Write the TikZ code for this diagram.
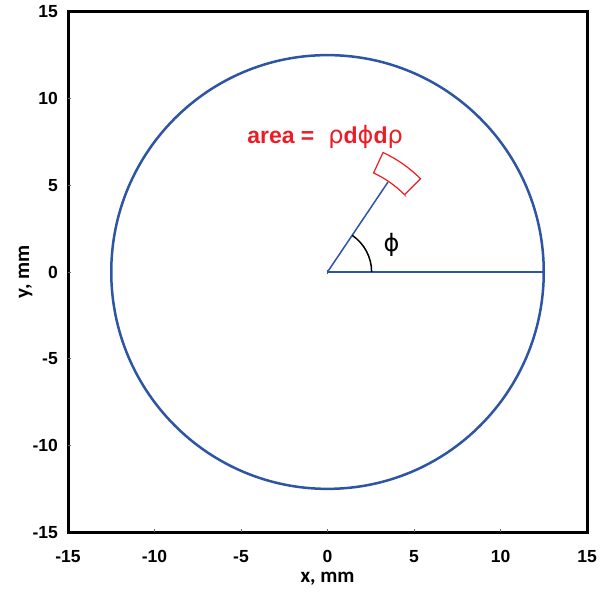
\documentclass[tikz,border=0pt]{standalone}
\usepackage{fontspec}
\setmainfont{Liberation Sans}
\newfontfamily\titlefont{Carlito}
\newfontfamily\greekfont{DejaVu Sans}
\usetikzlibrary{positioning}
\definecolor{plotblue}{RGB}{46,84,164}
\definecolor{plotred}{RGB}{237,28,36}
\newcommand{\gk}[1]{{\greekfont\mdseries\fontsize{24}{28}\selectfont #1}}

\begin{document}
\begin{tikzpicture}
\tikzset{
    myaxis/.style={black, line width=3pt, line cap=rect},
    mytick/.style={black!60, line width=0.8pt},
    myticklabel/.style={font=\fontsize{17.5}{20}\selectfont\bfseries, inner sep=0pt},
    mytitle/.style={font=\titlefont\bfseries\fontsize{21}{24}\selectfont, inner sep=0pt},
    mycircle/.style={plotblue, line width=2.5pt},
    myradius/.style={plotblue, line width=1.5pt},
    myelement/.style={plotred, line width=1.2pt},
    mylabel/.style={plotred, font=\fontsize{23}{26}\selectfont\bfseries, inner sep=0pt}
}
\useasboundingbox (0,0) rectangle (602pt,593pt);
\begin{scope}[shift={(327.5pt,321pt)}, x=17.3pt, y=17.35pt]
% frame and ticks
\draw[myaxis] (-15,-15) rectangle (15,15);
\foreach \v in {-10,-5,0,5,10} {
    \draw[mytick] (\v,-15) -- ++(0,0.2);
    \draw[mytick] (-15,\v) -- ++(0.2,0);
}
\foreach \v in {-15,-10,-5,0,5,10,15} {
    \node[myticklabel, anchor=north, yshift=-18pt] (xl\v) at (\v,-15) {\v};
    \node[myticklabel, anchor=east, xshift=-10pt] (yl\v) at (-15,\v) {\v};
}
\node[mytitle] (xtitle) at (0,-17.7) {x, mm};
\node[mytitle, rotate=90] (ytitle) at (-17.45,0) {y, mm};
% circle and polar element
\coordinate (origin) at (0,0);
\coordinate (rim) at (12.5,0);
\coordinate (tip) at (56:6.25);
\draw[mycircle] (origin) circle (12.5);
\draw[myradius] (origin) -- (rim);
\draw[myradius] (origin) -- (tip);
\draw[myradius, line width=0.8pt] (origin) ++(0,-0.12) -- ++(0,0.24);
\draw[black, line width=1.5pt] (2.55,0) arc (0:56:2.55);
\node[font=\fontsize{24}{28}\selectfont\greekfont] (phi) at (3.7,1.55) {ϕ};
\draw[myelement] (45:6.3) -- (45:7.6) arc (45:65:7.6) -- (65:6.3) arc (65:45:6.3) -- cycle;
\node[mylabel] (area) at (-0.14,7.77) {area =\hspace{14pt}\gk{ρ}d\gk{ϕ}d\gk{ρ}};
\end{scope}
\end{tikzpicture}
\end{document}
